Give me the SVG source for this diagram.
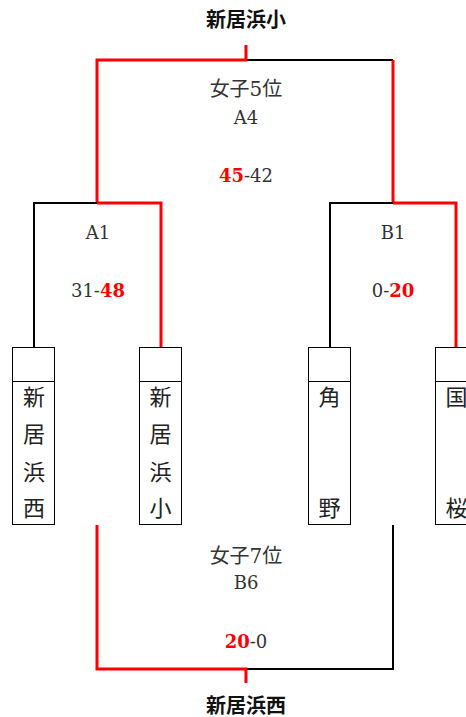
<svg xmlns="http://www.w3.org/2000/svg" width="466" height="717" viewBox="0 0 466 717">
<style>
.w{stroke:#ff0000;stroke-width:3;fill:none}
.l{stroke:#000;stroke-width:2;fill:none}
.box{stroke:#000;stroke-width:1;fill:#fff}
.t{font-family:"DejaVu Serif","Noto Sans CJK JP",serif;font-size:18px;fill:#333;text-anchor:middle}
.c{font-size:20px}
.r{fill:#ff0000;font-weight:bold}
.title{font-family:"Liberation Sans","Noto Sans CJK JP",sans-serif;font-size:20px;font-weight:bold;fill:#111;text-anchor:middle}
.n{font-family:"Liberation Serif","Noto Sans CJK JP",serif;font-size:22px;fill:#222;text-anchor:middle}
</style>
<rect width="466" height="717" fill="#fff"/>
<g id="connectors">
<path class="l" d="M246,60 H393"/>
<path class="w" d="M246,45 V60 H97 V203"/>
<path class="w" d="M393,60 V203"/>
<path class="l" d="M97,203 H34 V347"/>
<path class="w" d="M97,203 H161 V347"/>
<path class="l" d="M393,203 H330 V347"/>
<path class="w" d="M393,203 H456 V347"/>
<path class="l" d="M246,669 H393 V525"/>
<path class="w" d="M246,683 V669 H97 V525"/>
</g>
<g id="title-top"><text class="title" x="246" y="27">新居浜小</text></g>
<g id="match-final5">
<text class="t c" x="246" y="96">女子5位</text>
<text class="t" x="246" y="124">A4</text>
<text class="t" x="246" y="182"><tspan class="r">45</tspan>-42</text>
</g>
<g id="match-A1">
<text class="t" x="98" y="239">A1</text>
<text class="t" x="98" y="297">31-<tspan class="r">48</tspan></text>
</g>
<g id="match-B1">
<text class="t" x="393" y="239">B1</text>
<text class="t" x="393" y="297">0-<tspan class="r">20</tspan></text>
</g>
<g id="team-niihamanishi">
<rect class="box" x="12.5" y="347.5" width="42" height="177"/>
<line class="box" x1="12.5" y1="381.5" x2="54.5" y2="381.5"/>
<text class="n" x="34" y="405">新</text>
<text class="n" x="34" y="442">居</text>
<text class="n" x="34" y="480">浜</text>
<text class="n" x="34" y="516">西</text>
</g>
<g id="team-niihamasho">
<rect class="box" x="139.5" y="347.5" width="42" height="177"/>
<line class="box" x1="139.5" y1="381.5" x2="181.5" y2="381.5"/>
<text class="n" x="160.5" y="405">新</text>
<text class="n" x="160.5" y="442">居</text>
<text class="n" x="160.5" y="480">浜</text>
<text class="n" x="160.5" y="516">小</text>
</g>
<g id="team-kakuno">
<rect class="box" x="308.5" y="347.5" width="42" height="177"/>
<line class="box" x1="308.5" y1="381.5" x2="350.5" y2="381.5"/>
<text class="n" x="329.5" y="405">角</text>
<text class="n" x="329.5" y="516">野</text>
</g>
<g id="team-kokuou">
<rect class="box" x="435.5" y="347.5" width="42" height="177"/>
<line class="box" x1="435.5" y1="381.5" x2="477.5" y2="381.5"/>
<text class="n" x="456.5" y="405">国</text>
<text class="n" x="456.5" y="516">桜</text>
</g>
<g id="match-final7">
<text class="t c" x="246" y="563">女子7位</text>
<text class="t" x="246" y="589">B6</text>
<text class="t" x="246" y="648"><tspan class="r">20</tspan>-0</text>
</g>
<g id="title-bottom"><text class="title" x="246" y="713">新居浜西</text></g>
</svg>
